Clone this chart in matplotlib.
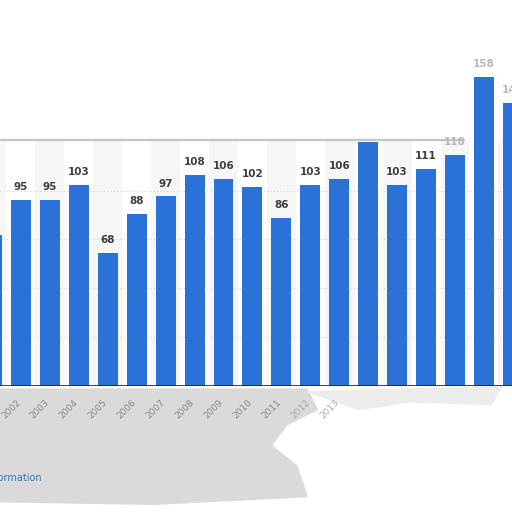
import numpy as np
import matplotlib
matplotlib.use("Agg")
import matplotlib.pyplot as plt
from matplotlib.patches import Polygon

years = list(range(2001, 2020))
values = [77, 95, 95, 103, 68, 88, 97, 108, 106, 102, 86, 103, 106, 125, 103, 111, 118, 158, 145]
labels_shown = [None, "95", "95", "103", "68", "88", "97", "108", "106", "102", "86", "103", "106",
                None, "103", "111", "118", "158", "145"]
tick_years = [str(y) for y in years]

bar_color = "#2a72d8"
card_top = 125.6

fig = plt.figure(figsize=(5.12, 5.12), dpi=100)
ax = fig.add_axes([0, 126 / 512, 1, (386 - 40) / 512])
ax.set_zorder(2)
ax.patch.set_alpha(0)

x = np.array(years)
# faint zebra columns inside the card
for i, yr in enumerate(years):
    if i % 2 == 0:
        ax.fill_between([yr - 0.5, yr + 0.5], 0, card_top, color="#f6f6f6", zorder=0, lw=0)

for g in [25, 50, 75, 100]:
    ax.axhline(g, color="#cfcfcf", lw=0.8, ls=(0, (1, 2)), zorder=1)
# card border
ax.plot([2001.28, 2017.3], [card_top, card_top], color="#c4c4c4", lw=1.6, zorder=1,
        solid_capstyle="round")

ax.bar(x, values, width=0.69, color=bar_color, zorder=2)

for xi, v, lab in zip(x, values, labels_shown):
    if lab is None:
        continue
    faded = xi >= 2017
    ax.text(xi, v + 4, lab, ha="center", va="bottom", fontsize=7.5, fontweight="bold",
            color="#b8b8b8" if faded else "#3f3f3f", zorder=3)

ax.axhline(0, color="#222222", lw=1.2, zorder=3)

ax.set_xticks([])
ax.set_yticks([])
ax.set_xlim(2001.276, 2018.97)
ax.set_ylim(0, (386 - 40) / 1.955)
for s in ax.spines.values():
    s.set_visible(False)

# grey smudge below the axis
smudge = Polygon([[0, 0.24], [0.6, 0.24], [0.62, 0.2], [0.56, 0.17], [0.53, 0.13], [0.58, 0.09],
                  [0.6, 0.03], [0.3, 0.015], [0, 0.02]], closed=True, transform=fig.transFigure,
                 color="#dadada", zorder=-1)
fig.patches.append(smudge)
smudge2 = Polygon([[0.6, 0.235], [0.98, 0.245], [0.96, 0.21], [0.8, 0.215], [0.7, 0.2]],
                  closed=True, transform=fig.transFigure, color="#ececec", zorder=-1)
fig.patches.append(smudge2)

for xi, t in zip(x, tick_years):
    if xi < 2002 or xi > 2013:
        continue
    col = "#8a8a8a" if xi <= 2011 else "#aaaaaa"
    ax.text(xi + 0.05, -6, t, rotation=45, ha="right", va="top", fontsize=6.5,
            color=col, zorder=3, clip_on=False)

fig.text(42 / 512, 1 - 478 / 512, "Additional Information", ha="right", va="center",
         fontsize=7, color="#3a78b0")

fig.savefig("out.png", dpi=100)
